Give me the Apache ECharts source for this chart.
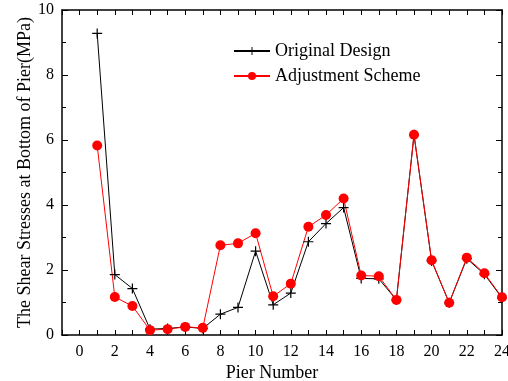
<!DOCTYPE html>
<html><head><meta charset="utf-8">
<script src="https://cdn.jsdelivr.net/npm/echarts@6/dist/echarts.min.js"></script>
<style>html,body{margin:0;padding:0;background:#fff}#c{width:508px;height:381px}</style>
</head><body><div id="c"></div>
<script>
var piers = [1,2,3,4,5,6,7,8,9,10,11,12,13,14,15,16,17,18,19,20,21,22,23,24];
var original = [9.28,1.86,1.43,0.18,0.2,0.25,0.2,0.64,0.85,2.58,0.93,1.29,2.87,3.43,3.92,1.74,1.73,1.08,6.16,2.28,0.99,2.35,1.87,1.14];
var adjusted = [5.83,1.17,0.89,0.15,0.18,0.25,0.22,2.76,2.82,3.13,1.19,1.58,3.33,3.69,4.2,1.83,1.81,1.08,6.16,2.3,0.99,2.38,1.9,1.16];
var seriesNames = ['Original Design','Adjustment Scheme'];
var F = 'Liberation Serif';
var chart = echarts.init(document.getElementById('c'));
function pairs(v){ return piers.map(function(p,i){return [p,v[i]];}); }
var plus = 'path://M4.4,0h1.2v10h-1.2z M0,4.4h10v1.2h-10z';
var tick = {inside:true,length:5,lineStyle:{color:'#000'}};
var line = {show:true,onZero:false,lineStyle:{color:'#000',width:1.5}};
chart.setOption({
  animation:false,
  grid:{left:62,right:6,top:10,bottom:46,containLabel:false,outerBoundsMode:'none'},
  legend:{
    orient:'vertical', left:228, top:37, itemGap:7, itemWidth:36, itemHeight:10,
    textStyle:{fontFamily:F,fontSize:18,color:'#000'},
    data:seriesNames
  },
  xAxis:[{
    type:'value', min:-1, max:24, interval:1,
    name:'Pier Number', nameLocation:'middle', nameGap:29, nameMoveOverlap:false,
    nameTextStyle:{fontFamily:F,fontSize:18,color:'#000',padding:[0,20,0,0]},
    axisLine:line, axisTick:tick,
    axisLabel:{fontFamily:F,fontSize:16,color:'#000',margin:9,hideOverlap:false,
      formatter:function(v){return (v>=0 && v%2===0)?String(v):'';}},
    splitLine:{show:false}
  },{
    type:'value', min:-1, max:24, interval:1, position:'top',
    axisLine:line, axisTick:tick,
    axisLabel:{show:false}, splitLine:{show:false}
  }],
  yAxis:[{
    type:'value', min:0, max:10, interval:2,
    name:'The Shear Stresses at Bottom of Pier(MPa)', nameLocation:'middle', nameGap:28, nameMoveOverlap:false,
    nameTextStyle:{fontFamily:F,fontSize:18,color:'#000'},
    axisLine:line,
    axisTick:{inside:true,length:6,lineStyle:{color:'#000'}},
    minorTick:{show:true,splitNumber:2,length:4,lineStyle:{color:'#000'}},
    axisLabel:{fontFamily:F,fontSize:16,color:'#000',margin:8},
    splitLine:{show:false}
  },{
    type:'value', min:0, max:10, interval:2, position:'right',
    axisLine:line,
    axisTick:{inside:true,length:6,lineStyle:{color:'#000'}},
    minorTick:{show:true,splitNumber:2,length:4,lineStyle:{color:'#000'}},
    axisLabel:{show:false}, splitLine:{show:false}
  }],
  series:[{
    name:seriesNames[0], type:'line', data:pairs(original),
    symbol:plus, symbolSize:10,
    lineStyle:{color:'#000',width:1}, itemStyle:{color:'#000'}
  },{
    name:seriesNames[1], type:'line', data:pairs(adjusted),
    symbol:'circle', symbolSize:10,
    lineStyle:{color:'#ff0000',width:1}, itemStyle:{color:'#ff0000'}
  }]
});
</script></body></html>
